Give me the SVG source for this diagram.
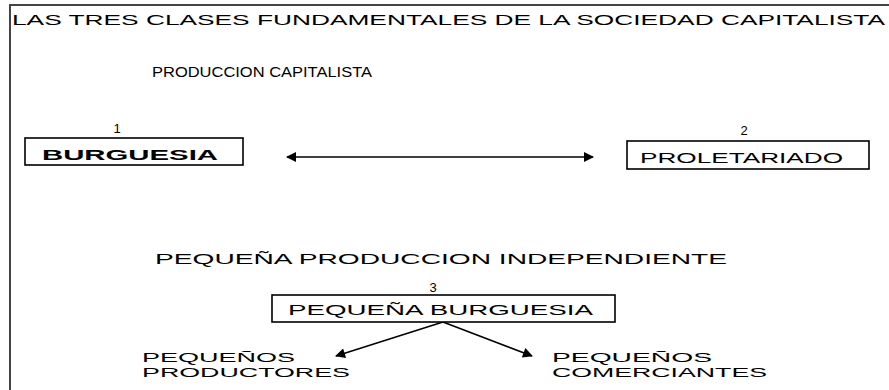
<svg xmlns="http://www.w3.org/2000/svg" width="889" height="390" viewBox="0 0 889 390">
<style>
  .t { font-family: "Liberation Sans", Arial, sans-serif; fill: #000; }
  .h { font-size: 15px; }
  .s { font-size: 14px; }
  .m { font-size: 12.5px; }
  .n { font-size: 13px; }
  .box { fill: #fff; stroke: #000; stroke-width: 1.6; }
  .c { stroke: #000; stroke-width: 1.5; fill: none; }
</style>
<defs>
  <marker id="ah" viewBox="0 0 10 10" refX="9" refY="5" markerWidth="13" markerHeight="10" markerUnits="userSpaceOnUse" orient="auto-start-reverse">
    <path d="M0,0 L10,5 L0,10 z" fill="#000"/>
  </marker>
</defs>
<rect width="889" height="390" fill="#fff"/>
<path d="M10,390 L10,5 L889,5" fill="none" stroke="#444" stroke-width="2"/>
<text class="t h" x="12" y="25" textLength="873" lengthAdjust="spacingAndGlyphs">LAS TRES CLASES FUNDAMENTALES DE LA SOCIEDAD CAPITALISTA</text>
<text class="t s" x="152" y="77" textLength="220" lengthAdjust="spacingAndGlyphs">PRODUCCION CAPITALISTA</text>
<text class="t s" x="155" y="264" textLength="572" lengthAdjust="spacingAndGlyphs">PEQUEÑA PRODUCCION INDEPENDIENTE</text>
<g id="connectors">
  <line class="c" x1="287" y1="157" x2="593" y2="157" marker-start="url(#ah)" marker-end="url(#ah)"/>
  <line class="c" x1="443" y1="322" x2="336" y2="356" marker-end="url(#ah)"/>
  <line class="c" x1="443" y1="322" x2="532" y2="356" marker-end="url(#ah)"/>
</g>
<g id="burguesia">
  <text class="t n" x="117" y="133" text-anchor="middle">1</text>
  <rect class="box" x="25" y="138" width="218" height="27"/>
  <text class="t s" x="42" y="160" font-weight="bold" textLength="176" lengthAdjust="spacingAndGlyphs">BURGUESIA</text>
</g>
<g id="proletariado">
  <text class="t n" x="744" y="135" text-anchor="middle">2</text>
  <rect class="box" x="627" y="141" width="242" height="28"/>
  <text class="t s" x="640" y="163" textLength="203" lengthAdjust="spacingAndGlyphs">PROLETARIADO</text>
</g>
<g id="pequena-burguesia">
  <text class="t n" x="433" y="292" text-anchor="middle">3</text>
  <rect class="box" x="272" y="295" width="343" height="27"/>
  <text class="t s" x="288" y="315" textLength="305" lengthAdjust="spacingAndGlyphs">PEQUEÑA BURGUESIA</text>
</g>
<g id="pequenos-productores">
  <text class="t m" x="142" y="362" textLength="153" lengthAdjust="spacingAndGlyphs">PEQUEÑOS</text>
  <text class="t m" x="142" y="377" textLength="208" lengthAdjust="spacingAndGlyphs">PRODUCTORES</text>
</g>
<g id="pequenos-comerciantes">
  <text class="t m" x="552" y="362" textLength="160" lengthAdjust="spacingAndGlyphs">PEQUEÑOS</text>
  <text class="t m" x="552" y="377" textLength="215" lengthAdjust="spacingAndGlyphs">COMERCIANTES</text>
</g>
</svg>
